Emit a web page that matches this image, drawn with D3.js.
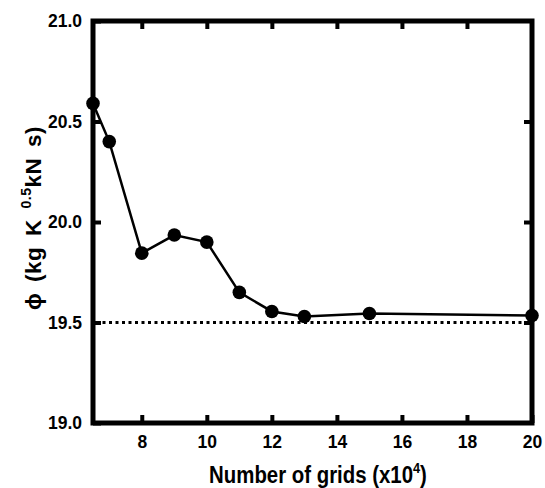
<!DOCTYPE html>
<html>
<head>
<meta charset="utf-8">
<script src="https://cdn.jsdelivr.net/npm/d3@7"></script>
<style>
  body { margin: 0; background: #fff; }
  text { font-family: "Liberation Sans", Arial, sans-serif; font-weight: bold; }
</style>
</head>
<body>
<div id="chart"></div>
<script>
// grid count (x10^4) and resulting phi values
var gridsX = [6.5, 7, 8, 9, 10, 11, 12, 13, 15, 20];
var phiValues = [20.59, 20.40, 19.845, 19.935, 19.90, 19.65, 19.555, 19.53, 19.545, 19.535];
var refLine = [19.5];
var xTicks = [8, 10, 12, 14, 16, 18, 20];
var yTicks = [19.0, 19.5, 20.0, 20.5, 21.0];

var W = 545, H = 488;
var plotL = 93, plotR = 532, plotT = 21, plotB = 423;

var svg = d3.select("#chart").append("svg")
    .attr("width", W).attr("height", H);

var x = d3.scaleLinear().domain([6.5, 20]).range([plotL, plotR]);
var y = d3.scaleLinear().domain([19, 21]).range([plotB, plotT]);

// axes, ticks pointing inwards
var styleAxis = function(g){
  g.select(".domain").remove();
  g.selectAll(".tick line").attr("stroke", "#000").attr("stroke-width", 4);
  g.selectAll(".tick text").attr("font-size", 17.5).attr("fill", "#000")
    .style("font-family", "'Liberation Sans', Arial, sans-serif").style("font-weight", "bold");
}

svg.append("g").attr("transform", "translate(0," + plotB + ")")
  .call(d3.axisBottom(x).tickValues(xTicks).tickSize(-8).tickPadding(13).tickFormat(d3.format("d")))
  .call(styleAxis);
svg.append("g").attr("transform", "translate(0," + plotT + ")")
  .call(d3.axisTop(x).tickValues(xTicks.slice(0, -1)).tickSize(-8).tickFormat(""))
  .call(styleAxis);
svg.append("g").attr("transform", "translate(" + plotL + ",0)")
  .call(d3.axisLeft(y).tickValues(yTicks).tickSize(-8).tickPadding(11).tickFormat(d3.format(".1f")))
  .call(styleAxis);
svg.append("g").attr("transform", "translate(" + plotR + ",0)")
  .call(d3.axisRight(y).tickValues(yTicks.slice(1, -1)).tickSize(-8).tickFormat(""))
  .call(styleAxis);

// frame
svg.append("rect")
  .attr("x", plotL).attr("y", plotT)
  .attr("width", plotR - plotL).attr("height", plotB - plotT)
  .attr("fill", "none").attr("stroke", "#000").attr("stroke-width", 5);

// dotted reference
svg.selectAll(".ref").data(refLine).enter().append("line")
  .attr("class", "ref")
  .attr("x1", plotL + 3).attr("x2", plotR - 3)
  .attr("y1", function(d){ return y(d); }).attr("y2", function(d){ return y(d); })
  .attr("stroke", "#000").attr("stroke-width", 3).attr("stroke-dasharray", "3,3.5");

// data line + markers
var pts = gridsX.map(function(d, i){ return [d, phiValues[i]]; });
svg.append("path").datum(pts)
  .attr("d", d3.line().x(function(d){ return x(d[0]); }).y(function(d){ return y(d[1]); }))
  .attr("fill", "none").attr("stroke", "#000").attr("stroke-width", 2.5);

svg.selectAll(".pt").data(pts).enter().append("circle")
  .attr("class", "pt")
  .attr("cx", function(d){ return x(d[0]); })
  .attr("cy", function(d){ return y(d[1]); })
  .attr("r", 6.8).attr("fill", "#000");

// axis titles (glyphs slightly condensed like the original)
var xt = svg.append("text")
  .attr("transform", "translate(318,483) scale(0.85,1)")
  .attr("text-anchor", "middle").attr("font-size", 24);
xt.append("tspan").text("Number of grids (x10");
xt.append("tspan").attr("font-size", 15).attr("dy", -10).text("4");
xt.append("tspan").attr("dy", 10).text(")");

var yt = svg.append("text")
  .attr("transform", "translate(41,218) rotate(-90)")
  .attr("text-anchor", "middle").attr("font-size", 22.5)
  .attr("letter-spacing", 0.5).attr("word-spacing", 4);
yt.append("tspan").text("\u03D5 (kg K ");
yt.append("tspan").attr("font-size", 14).attr("dy", -10).text("0.5");
yt.append("tspan").attr("dy", 10).text("kN s)");
</script>
</body>
</html>
